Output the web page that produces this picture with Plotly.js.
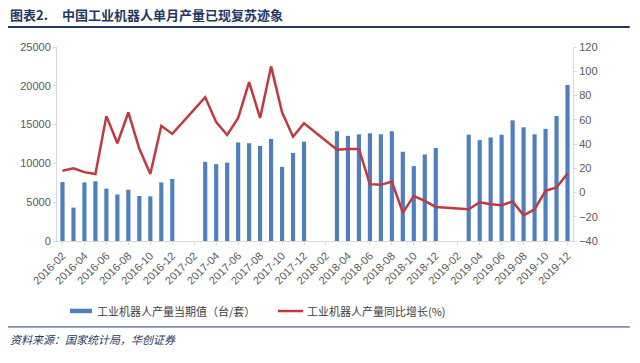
<!DOCTYPE html>
<html>
<head>
<meta charset="utf-8">
<script src="https://cdn.plot.ly/plotly-3.0.1.min.js"></script>
<style>
html,body{margin:0;padding:0;background:#fff;}
#chart{width:640px;height:363px;}
</style>
</head>
<body>
<div id="chart"></div>
<script>
const months = [
"2016-02","2016-03","2016-04","2016-05","2016-06","2016-07","2016-08","2016-09","2016-10","2016-11","2016-12",
"2017-01","2017-02","2017-03","2017-04","2017-05","2017-06","2017-07","2017-08","2017-09","2017-10","2017-11","2017-12",
"2018-01","2018-02","2018-03","2018-04","2018-05","2018-06","2018-07","2018-08","2018-09","2018-10","2018-11","2018-12",
"2019-01","2019-02","2019-03","2019-04","2019-05","2019-06","2019-07","2019-08","2019-09","2019-10","2019-11","2019-12"];

const output = [
7600,4300,7550,7700,6750,6000,6600,5800,5750,7550,8000,
null,null,10200,9900,10100,12700,12600,12250,13150,9550,11350,12800,
null,null,14150,13550,13750,13880,13750,14150,11500,9650,11150,11980,
null,null,13700,13000,13350,13700,15550,14650,13750,14450,16100,20100];

const growth = [
18,20,16.8,15.2,63,40.6,66,36,15.2,55,48.3,
null,null,78.6,58,47.4,61.5,91,61.5,104,66.2,46,57.1,
null,null,35.3,35.9,35.9,6.9,6.3,9.1,-16.6,-3,-6.9,-11.9,
null,null,-13.8,-8,-9.7,-10.5,-7.4,-18.8,-13.8,1.4,4.1,15.7];

const tickLabels = months.filter((m, i) => i % 2 === 0);

const seriesNames = ["工业机器人产量当期值（台/套）", "工业机器人产量同比增长(%)"];
const titleLabel = "图表2.";
const titleText = "中国工业机器人单月产量已现复苏迹象";
const sourceText = "资料来源：国家统计局，华创证券";

const navy = "#1f3864";
const barColor = "#4f7fbf";
const lineColor = "#c0393f";
const tickFont = {family: "Liberation Sans, Arial, sans-serif", size: 11, color: "#595959"};
const legendFont = {family: "Noto Sans CJK SC", size: 11, color: "#404040"};

const traces = [
  {type: "bar", x: months, y: output, name: seriesNames[0],
   marker: {color: barColor}, yaxis: "y"},
  {type: "scatter", mode: "lines", x: months, y: growth, name: seriesNames[1],
   line: {color: lineColor, width: 2.5}, connectgaps: true, yaxis: "y2"}
];

const layout = {
  width: 640, height: 363,
  margin: {l: 57, r: 67, t: 47, b: 122},
  paper_bgcolor: "#fff", plot_bgcolor: "#fff",
  bargap: 0.62,
  showlegend: false,
  xaxis: {type: "category", tickmode: "array", tickvals: tickLabels, ticktext: tickLabels,
    tickangle: -45, tickfont: tickFont, showgrid: false, showline: true,
    linecolor: "#d9d9d9", linewidth: 1, ticks: "outside", ticklen: 3, tickcolor: "#d9d9d9",
    zeroline: false},
  yaxis: {range: [0, 25000], dtick: 5000, tickformat: "d", tickfont: tickFont, showgrid: false,
    showline: true, linecolor: "#d9d9d9", linewidth: 1, zeroline: false,
    ticks: "outside", ticklen: 3, tickcolor: "#d9d9d9"},
  yaxis2: {range: [-40, 120], dtick: 20, overlaying: "y", side: "right",
    tickfont: tickFont, showgrid: false, showline: true, linecolor: "#d9d9d9",
    linewidth: 1, zeroline: false, ticks: "outside", ticklen: 3, tickcolor: "#d9d9d9"},
  shapes: [
    {type: "line", xref: "paper", yref: "paper", x0: -0.095, x1: 1.11,
     y0: 1.103, y1: 1.103, line: {color: navy, width: 2}},
    {type: "line", xref: "paper", yref: "paper", x0: -0.095, x1: 1.11,
     y0: -0.443, y1: -0.443, line: {color: navy, width: 1}},
    {type: "rect", xref: "paper", yref: "paper", x0: 0.0252, x1: 0.0678,
     y0: -0.372, y1: -0.349, fillcolor: barColor, line: {width: 0}},
    {type: "line", xref: "paper", yref: "paper", x0: 0.428, x1: 0.477,
     y0: -0.361, y1: -0.361, line: {color: lineColor, width: 2.5}}
  ],
  annotations: [
    {text: "<b>" + titleLabel + "</b>", xref: "paper", yref: "paper",
     x: -0.095, y: 1.165, xanchor: "left", yanchor: "middle", showarrow: false,
     font: {family: "Noto Sans CJK SC", size: 13, color: navy}},
    {text: "<b>" + titleText + "</b>", xref: "paper", yref: "paper",
     x: 0.006, y: 1.165, xanchor: "left", yanchor: "middle", showarrow: false,
     font: {family: "Noto Sans CJK SC", size: 13, color: navy}},
    {text: seriesNames[0], xref: "paper", yref: "paper",
     x: 0.0736, y: -0.361, xanchor: "left", yanchor: "middle", showarrow: false,
     font: legendFont},
    {text: seriesNames[1], xref: "paper", yref: "paper",
     x: 0.481, y: -0.361, xanchor: "left", yanchor: "middle", showarrow: false,
     font: legendFont},
    {text: "<i>" + sourceText + "</i>", xref: "paper", yref: "paper",
     x: -0.095, y: -0.505, xanchor: "left", yanchor: "middle", showarrow: false,
     font: {family: "Noto Sans CJK SC", size: 11, color: navy}}
  ]
};

Plotly.newPlot("chart", traces, layout, {displayModeBar: false, staticPlot: true});
</script>
</body>
</html>
